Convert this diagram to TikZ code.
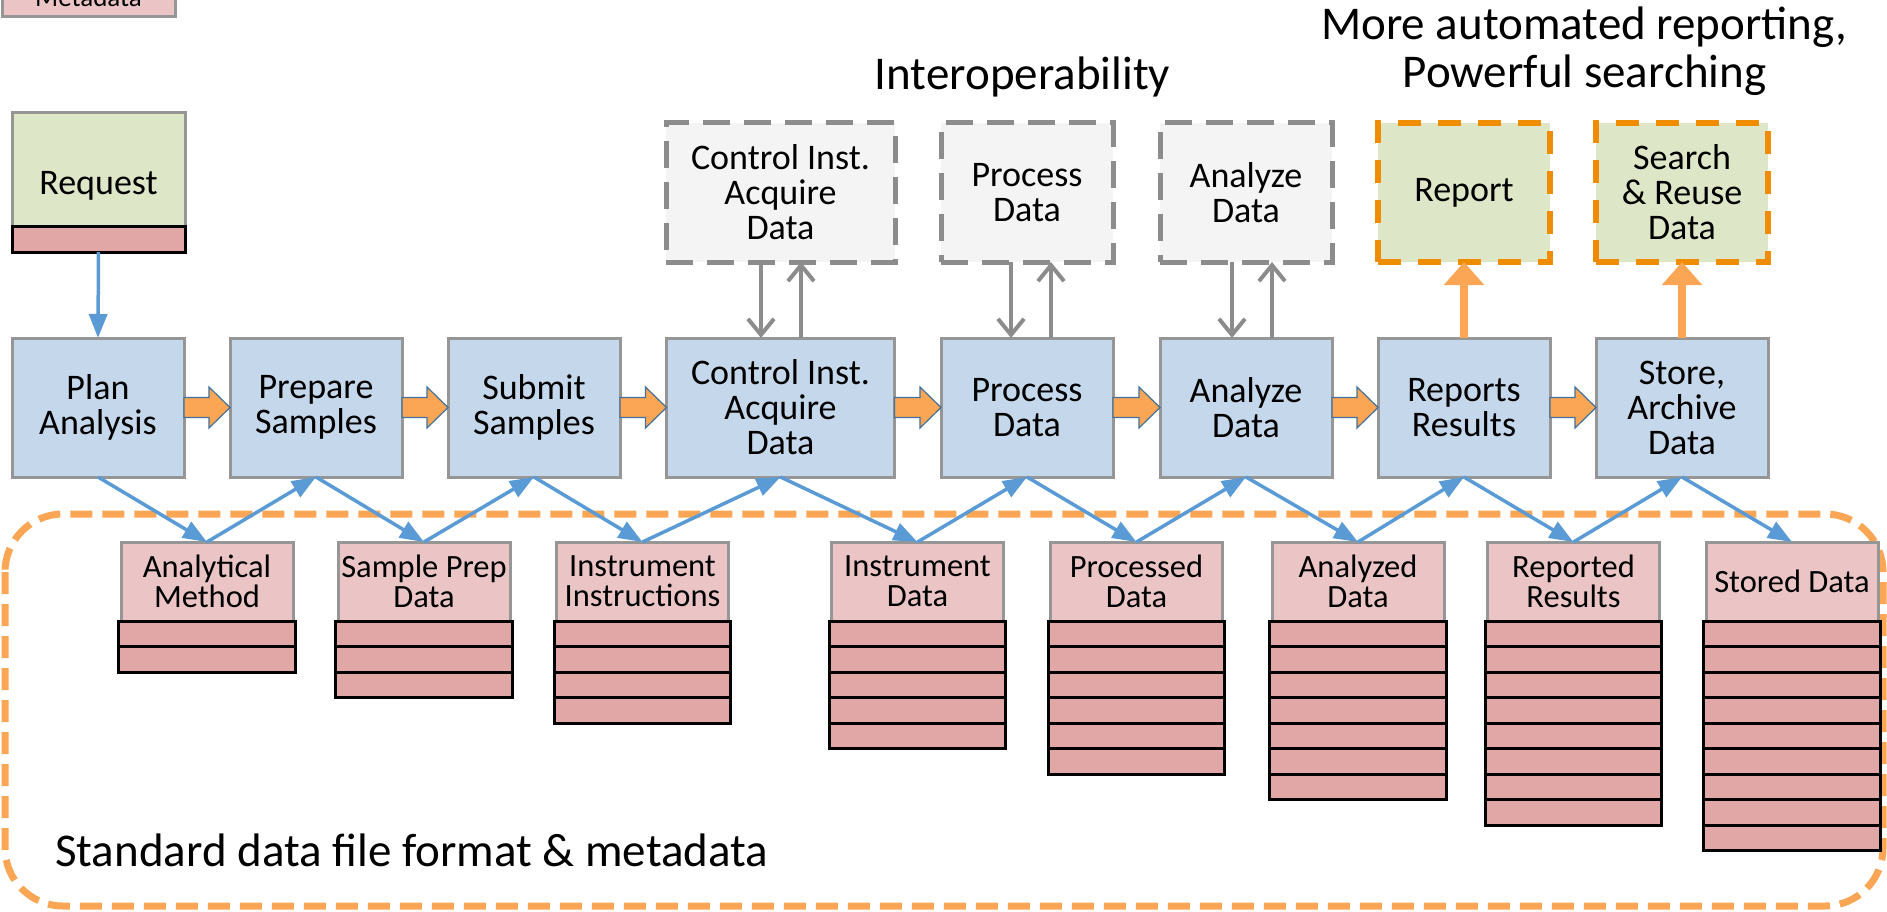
\documentclass[tikz,border=0pt]{standalone}
\usepackage{fontspec}
\setmainfont{Carlito}
\usetikzlibrary{positioning,calc,arrows.meta,shapes.multipart}

\tikzset{
  mainbox/.style={draw={rgb,255:red,150;green,150;blue,150}, line width=3pt, fill={rgb,255:red,197;green,215;blue,235}, minimum width=172pt, minimum height=139pt, inner sep=0pt, outer sep=0pt, align=center, font=\fontsize{36}{35}\selectfont},
  topbox/.style={mainbox, draw={rgb,255:red,140;green,140;blue,140}, line width=5pt, dash pattern=on 27pt off 14pt, fill={rgb,255:red,244;green,244;blue,244}},
  goalbox/.style={mainbox, draw={rgb,255:red,240;green,140;blue,0}, line width=6pt, dash pattern=on 23pt off 17pt, fill={rgb,255:red,221;green,231;blue,200}},
  reqbox/.style={mainbox, minimum width=173pt, text depth=-4pt, fill={rgb,255:red,221;green,231;blue,200}},
  hdrbox/.style={draw={rgb,255:red,150;green,150;blue,150}, line width=3pt, fill={rgb,255:red,235;green,197;blue,197}, minimum width=172pt, minimum height=79pt, inner sep=0pt, outer sep=0pt, align=center, font=\fontsize{32.5}{30}\selectfont},
  rowbox/.style={draw=black, line width=3pt, fill={rgb,255:red,225;green,167;blue,166}, minimum width=173pt, minimum height=25pt, inner sep=0pt, outer sep=0pt},
  stack/.style={rectangle split, rectangle split ignore empty parts=false, rectangle split empty part height=22.5pt, rectangle split empty part depth=0pt, rectangle split empty part width=172pt, draw=black, line width=3pt, fill={rgb,255:red,225;green,167;blue,166}, minimum width=172pt, inner sep=0pt, outer sep=0pt},
  flowarr/.style={draw={rgb,255:red,91;green,155;blue,213}, line width=3.5pt, -{Triangle[length=24pt,width=18pt]}},
  ioarr/.style={draw={rgb,255:red,140;green,140;blue,140}, line width=4pt, -{Straight Barb[length=16pt,width=26pt]}},
  outarr/.style={draw={rgb,255:red,250;green,166;blue,84}, line width=8pt, -{Triangle[length=23pt,width=39pt]}},
  blockarr/.style={fill={rgb,255:red,250;green,166;blue,84}, draw={rgb,255:red,65;green,113;blue,156}, line width=1.2pt, line join=miter},
  stdframe/.style={draw={rgb,255:red,250;green,166;blue,84}, line width=7pt, dash pattern=on 22pt off 10pt, rounded corners=58pt},
  title/.style={inner sep=0pt, font=\fontsize{47}{48}\selectfont}
}

\begin{document}
\begin{tikzpicture}[x=1pt,y=-1pt]
    \useasboundingbox (0,0) rectangle (1887,912);
    \clip (0,0) rectangle (1887,912);

    %frame
    \draw[stdframe] (5,514) rectangle (1883,906);
    \node[title, anchor=base west] (std) at (55,866) {Standard data file format \& metadata};

    %legend and request
    \node[hdrbox, minimum width=173pt, minimum height=40pt, font=\fontsize{27}{27}\selectfont] (legend) at (88.5,-3) {Metadata};
    \node[reqbox] (req) at (98.5,182.5) {Request};
    \node[rowbox, anchor=south] (reqS) at (req.south) {};

    %main row
    \node[mainbox] (plan) at (98,407.5) {Plan\\Analysis};
    \node[mainbox] (prep) at (316,407.5) {Prepare\\Samples};
    \node[mainbox] (sub) at (534,407.5) {Submit\\Samples};
    \node[mainbox, minimum width=228pt] (ctl) at (780.5,407.5) {Control Inst.\\Acquire\\Data};
    \node[mainbox] (proc) at (1027,407.5) {Process\\Data};
    \node[mainbox] (anl) at (1246,407.5) {Analyze\\Data};
    \node[mainbox] (rep) at (1464,407.5) {Reports\\Results};
    \node[mainbox] (sto) at (1682,407.5) {Store,\\Archive\\Data};

    %top row
    \node[topbox, minimum width=229pt, above=76pt of ctl] (ctlT) {Control Inst.\\Acquire\\Data};
    \node[topbox, above=76pt of proc] (procT) {Process\\Data};
    \node[topbox, above=76pt of anl] (anlT) {Analyze\\Data};
    \node[goalbox, above=76pt of rep] (repT) {Report};
    \node[goalbox, above=76pt of sto] (stoT) {Search\\\& Reuse\\Data};
    \node[title, anchor=base] (interop) at (1022.5,90) {Interoperability};
    \node[title, anchor=base] (more) at (1584,40) {More automated reporting,};
    \node[title, anchor=base] (power) at (1584.5,88) {Powerful searching};

    %data files
    \node[hdrbox] (amH) at (207,581.5) {Analytical\\Method};
    \node[stack, rectangle split parts=2, below=0pt of amH] (amS) {};
    \node[hdrbox] (spH) at (424,581.5) {Sample Prep\\Data};
    \node[stack, rectangle split parts=3, below=0pt of spH] (spS) {};
    \node[hdrbox] (iiH) at (642.5,581.5) {Instrument\\Instructions};
    \node[stack, rectangle split parts=4, below=0pt of iiH] (iiS) {};
    \node[hdrbox] (idH) at (917.5,581.5) {Instrument\\Data};
    \node[stack, rectangle split parts=5, below=0pt of idH] (idS) {};
    \node[hdrbox] (pdH) at (1136.5,581.5) {Processed\\Data};
    \node[stack, rectangle split parts=6, below=0pt of pdH] (pdS) {};
    \node[hdrbox] (adH) at (1358,581.5) {Analyzed\\Data};
    \node[stack, rectangle split parts=7, below=0pt of adH] (adS) {};
    \node[hdrbox] (rrH) at (1573.5,581.5) {Reported\\Results};
    \node[stack, rectangle split parts=8, below=0pt of rrH] (rrS) {};
    \node[hdrbox] (sdH) at (1792,581.5) {Stored Data};
    \node[stack, rectangle split parts=9, below=0pt of sdH] (sdS) {};

    %flow between steps
    \draw[blockarr] (prep.west) -- ++(-21,-20.5) -- ++(0,10.5) -| (plan.east) |- ($(prep.west)+(-21,10)$) -- ++(0,10.5) -- cycle;
    \draw[blockarr] (sub.west) -- ++(-21,-20.5) -- ++(0,10.5) -| (prep.east) |- ($(sub.west)+(-21,10)$) -- ++(0,10.5) -- cycle;
    \draw[blockarr] (ctl.west) -- ++(-21,-20.5) -- ++(0,10.5) -| (sub.east) |- ($(ctl.west)+(-21,10)$) -- ++(0,10.5) -- cycle;
    \draw[blockarr] (proc.west) -- ++(-21,-20.5) -- ++(0,10.5) -| (ctl.east) |- ($(proc.west)+(-21,10)$) -- ++(0,10.5) -- cycle;
    \draw[blockarr] (anl.west) -- ++(-21,-20.5) -- ++(0,10.5) -| (proc.east) |- ($(anl.west)+(-21,10)$) -- ++(0,10.5) -- cycle;
    \draw[blockarr] (rep.west) -- ++(-21,-20.5) -- ++(0,10.5) -| (anl.east) |- ($(rep.west)+(-21,10)$) -- ++(0,10.5) -- cycle;
    \draw[blockarr] (sto.west) -- ++(-21,-20.5) -- ++(0,10.5) -| (rep.east) |- ($(sto.west)+(-21,10)$) -- ++(0,10.5) -- cycle;

    %exchange with other tools
    \draw[ioarr] ([xshift=-19.5pt]ctlT.south) -- ([xshift=-19.5pt]ctl.north);
    \draw[ioarr] ([xshift=20.5pt]ctl.north) -- ([xshift=20.5pt]ctlT.south);
    \draw[ioarr] ([xshift=-16pt]procT.south) -- ([xshift=-16pt]proc.north);
    \draw[ioarr] ([xshift=24pt]proc.north) -- ([xshift=24pt]procT.south);
    \draw[ioarr] ([xshift=-14pt]anlT.south) -- ([xshift=-14pt]anl.north);
    \draw[ioarr] ([xshift=26pt]anl.north) -- ([xshift=26pt]anlT.south);
    \draw[outarr] (rep.north) -- (repT.south);
    \draw[outarr] (sto.north) -- (stoT.south);

    %files in and out
    \draw[flowarr] (reqS.south) -- (plan.north);
    \draw[flowarr] (plan.south) -- (amH.north);
    \draw[flowarr] (amH.north) -- (prep.south);
    \draw[flowarr] (prep.south) -- (spH.north);
    \draw[flowarr] (spH.north) -- (sub.south);
    \draw[flowarr] (sub.south) -- (iiH.north);
    \draw[flowarr] (iiH.north) -- (ctl.south);
    \draw[flowarr] (ctl.south) -- (idH.north);
    \draw[flowarr] (idH.north) -- (proc.south);
    \draw[flowarr] (proc.south) -- (pdH.north);
    \draw[flowarr] (pdH.north) -- (anl.south);
    \draw[flowarr] (anl.south) -- (adH.north);
    \draw[flowarr] (adH.north) -- (rep.south);
    \draw[flowarr] (rep.south) -- (rrH.north);
    \draw[flowarr] (rrH.north) -- (sto.south);
    \draw[flowarr] (sto.south) -- (sdH.north);
\end{tikzpicture}
\end{document}
